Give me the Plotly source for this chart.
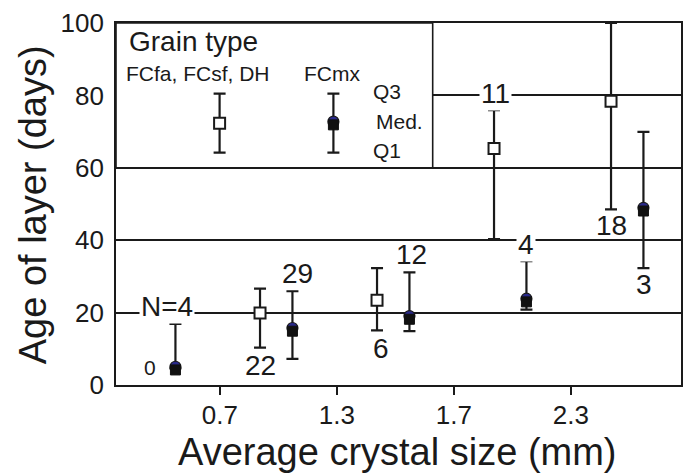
import plotly.graph_objects as go

# ---------------- data ----------------
bin_labels = ["<0.7", "0.7-1.3", "1.3-1.7", "1.7-2.3", ">2.3"]
tick_labels = ["0.7", "1.3", "1.7", "2.3"]

# FCfa, FCsf, DH (open squares) -- no data in first bin
open_bins = [1, 2, 3, 4]
open_med = [19.9, 23.4, 65.3, 78.4]
open_q3 = [26.6, 32.3, 75.9, 100.0]
open_q1 = [10.3, 15.1, 40.3, 48.5]
open_n = ["22", "6", "11", "18"]

# FCmx (filled markers)
mx_bins = [0, 1, 2, 3, 4]
mx_med = [4.6, 15.3, 18.6, 23.4, 48.5]
mx_q3 = [16.9, 25.9, 31.1, 34.2, 69.9]
mx_q1 = [4.6, 7.2, 14.9, 20.8, 32.3]
mx_n = ["N=4", "29", "12", "4", "3"]

# legend sample
leg_med = 72.3
leg_q3 = 80.5
leg_q1 = 64.2

# ---------------- layout helpers ----------------
FONT = "Liberation Sans, Arial, Helvetica, sans-serif"
XMIN, XMAX = 0.112, 4.941
CENTER = 0.485
OFF_OPEN, OFF_MX = -0.142, 0.135
PX_PER_UNIT = 3.62  # y pixels per day
INK = "#1a1a1a"


def xo(b):
    return b + CENTER + OFF_OPEN


def xm(b):
    return b + CENTER + OFF_MX


def px_x(px):
    return 1 + (px - 220) / 117.5


def px_y(py):
    return (385 - py) / PX_PER_UNIT


fig = go.Figure()

# legend box (covers gridline at 80)
fig.add_shape(type="rect", xref="x", yref="y", x0=XMIN, x1=px_x(433.7), y0=60, y1=100,
              line=dict(color=INK, width=1.6), fillcolor="white", layer="between")


def err(med, q3, q1):
    return dict(type="data", symmetric=False,
                array=[a - m for a, m in zip(q3, med)],
                arrayminus=[m - b for m, b in zip(med, q1)],
                color=INK, thickness=2.2, width=6)


def add_open(xs, med, q3, q1):
    fig.add_trace(go.Scatter(
        x=xs, y=med, mode="markers", showlegend=False,
        marker=dict(symbol="square", size=11, color="white", line=dict(color=INK, width=2)),
        error_y=err(med, q3, q1), cliponaxis=False))


def add_mx(xs, med, q3, q1):
    d = 1.6 / PX_PER_UNIT
    fig.add_trace(go.Scatter(
        x=xs, y=med, mode="markers", showlegend=False,
        marker=dict(size=1, color="rgba(0,0,0,0)"),
        error_y=err(med, q3, q1), cliponaxis=False))
    # rounded navy top
    fig.add_trace(go.Scatter(
        x=xs, y=[m + d for m in med], mode="markers", showlegend=False,
        marker=dict(symbol="circle", size=11, color="#2a2a8c", line=dict(color=INK, width=1.2)),
        cliponaxis=False))
    # black body
    fig.add_trace(go.Scatter(
        x=xs, y=[m - d for m in med], mode="markers", showlegend=False,
        marker=dict(symbol="square", size=10, color="#111", line=dict(color="#111", width=1)),
        cliponaxis=False))


add_open([xo(b) for b in open_bins], open_med, open_q3, open_q1)
add_mx([xm(b) for b in mx_bins], mx_med, mx_q3, mx_q1)

# legend samples
add_open([px_x(219.7)], [leg_med], [leg_q3], [leg_q1])
add_mx([px_x(334)], [leg_med], [leg_q3], [leg_q1])

annotations = []


def txt(text, x, y, size, xanchor="center", bg=None, xref="x", yref="y", **kw):
    a = dict(text=text, x=x, y=y, xref=xref, yref=yref, showarrow=False,
             xanchor=xanchor, yanchor="middle",
             font=dict(family=FONT, size=size, color=INK))
    if bg:
        a["bgcolor"] = bg
        a["borderpad"] = 1
    a.update(kw)
    annotations.append(a)


# legend texts
txt("Grain type", px_x(127), px_y(41.5), 28, xanchor="left")
txt("FCfa, FCsf, DH", px_x(124), px_y(73), 21, xanchor="left")
txt("FCmx", px_x(302), px_y(73), 21, xanchor="left")
txt("Q3", px_x(372), px_y(91.5), 21, xanchor="left")
txt("Med.", px_x(375), px_y(121.5), 21, xanchor="left")
txt("Q1", px_x(372), px_y(150.5), 21, xanchor="left")

# count labels (N)
open_lab_pos = [(xo(1), px_y(365.5)), (xo(2) + 0.03, px_y(348)), (xo(3) + 0.01, px_y(93)),
                (xo(4), px_y(225.5))]
for lab, (x, y) in zip(open_n, open_lab_pos):
    txt(lab, x, y, 28, bg="white" if lab == "11" else None)
mx_lab_pos = [(px_x(166.7), px_y(306.5)), (xm(1) + 0.04, px_y(273)), (xm(2) + 0.02, px_y(254)),
              (xm(3), px_y(244)), (xm(4) + 0.005, px_y(284))]
for lab, (x, y) in zip(mx_n, mx_lab_pos):
    txt(lab, x, y, 28, bg="white" if lab in ("N=4", "4") else None)
txt("0", px_x(150), px_y(367.5), 21)

# axis titles
txt("Average crystal size (mm)", ((170 + 627) / 2 - 116) / (683 - 116), -(452 - 385) / (385 - 23),
    38, xref="x domain", yref="y domain")
txt("Age of layer (days)", -(116 - 33) / (683 - 116), 0.5 * ((385 - 43) + (385 - 367)) / 362,
    38, xref="x domain", yref="y domain", textangle=-90)

fig.update_layout(
    width=684, height=473,
    margin=dict(l=116, r=1, t=23, b=88),
    paper_bgcolor="white", plot_bgcolor="white",
    showlegend=False,
    annotations=annotations,
    font=dict(family=FONT, color=INK),
    xaxis=dict(range=[XMIN, XMAX], tickmode="array", tickvals=[1, 2, 3, 4], ticktext=tick_labels,
               ticks="outside", ticklen=8, tickwidth=1.6, tickcolor=INK,
               showline=True, linecolor=INK, linewidth=1.6, mirror=True,
               showgrid=False, zeroline=False, ticklabelstandoff=-2,
               tickfont=dict(family=FONT, size=26, color=INK)),
    yaxis=dict(range=[0, 100], tickvals=[0, 20, 40, 60, 80, 100],
               ticks="", showline=True, linecolor=INK, linewidth=1.6, mirror=True,
               showgrid=True, gridcolor=INK, gridwidth=1.6, zeroline=False,
               tickfont=dict(family=FONT, size=26, color=INK), ticklabelstandoff=5),
)

fig.write_html("out.html")
